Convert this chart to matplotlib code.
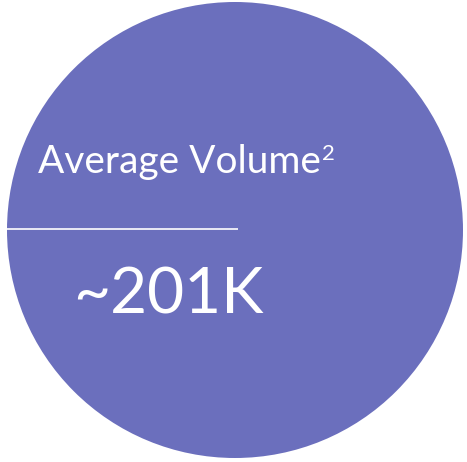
import matplotlib
matplotlib.use("Agg")
import matplotlib.pyplot as plt
from matplotlib.patches import Ellipse

# 内容
label = "Average Volume"
note = "2"
value = "~201K"

W, H, DPI = 467, 462, 100
fill = "#6B6FBD"

plt.rcParams["font.family"] = ["Lato", "DejaVu Sans"]

fig = plt.figure(figsize=(W / DPI, H / DPI), dpi=DPI)
ax = fig.add_axes([0, 0, 1, 1])
ax.set_xlim(0, W)
ax.set_ylim(H, 0)
ax.axis("off")

# 圆
ax.add_patch(Ellipse((235, 230), 456, 456, facecolor=fill, edgecolor="none"))
# 分隔线
ax.plot([7, 238], [229, 229], color="white", linewidth=1.2, solid_capstyle="butt")

t = ax.text(38, 173, label, color="white", fontsize=28, ha="left", va="baseline")
# 上标 紧跟在标签后面
fig.canvas.draw()
bb = t.get_window_extent().transformed(ax.transData.inverted())
ax.text(bb.x1 + 1, 160, note, color="white", fontsize=16, ha="left", va="baseline")

ax.text(73, 313, value, color="white", fontsize=46, ha="left", va="baseline")

fig.savefig("out.png", dpi=DPI)
